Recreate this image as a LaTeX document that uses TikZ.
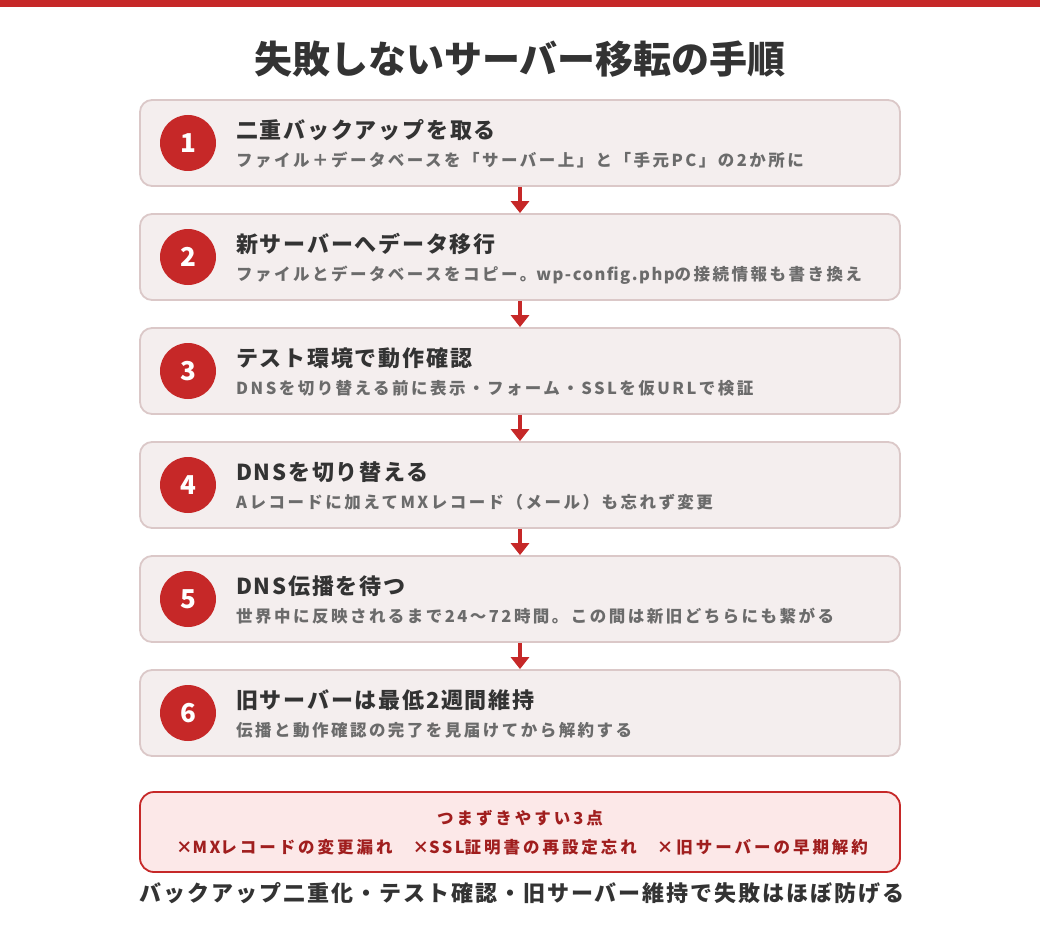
\documentclass[tikz,border=0pt]{standalone}
\usepackage{fontspec}
\setmainfont{Noto Sans CJK JP}
\newfontfamily\fhd{Noto Sans CJK JP}[LetterSpace=8]
\newfontfamily\fbot{Noto Sans CJK JP}[LetterSpace=9]
\newfontfamily\fsub{Noto Sans CJK JP}[LetterSpace=15]
\newfontfamily\fsubA{Noto Sans CJK JP}[LetterSpace=15]
\newfontfamily\fsubB{Noto Sans CJK JP}[LetterSpace=9]
\newfontfamily\fwarn{Noto Sans CJK JP}[LetterSpace=18]
\newcommand\latA[1]{{\fsubA\bfseries #1}}
\newcommand\latB[1]{{\fsubB\bfseries #1}}
\usetikzlibrary{arrows.meta}
\definecolor{redmain}{HTML}{C62828}
\definecolor{boxfill}{HTML}{F4EEEE}
\definecolor{boxline}{HTML}{DBC8C8}
\definecolor{warnfill}{HTML}{FCE8E8}
\definecolor{warntext}{HTML}{A01E1E}
\definecolor{headc}{HTML}{333333}
\definecolor{subc}{HTML}{6B6B6B}
\begin{document}
\begin{tikzpicture}[x=1pt,y=-1pt,
  stepbox/.style={draw=boxline, fill=boxfill, line width=1.8pt, rounded corners=12pt,
    minimum width=760pt, minimum height=86pt, inner sep=0pt},
  numc/.style={circle, fill=redmain, minimum size=56pt, inner sep=0pt, text=white,
    font=\bfseries\fontsize{26}{30}\selectfont},
  hd/.style={anchor=base west, inner sep=0pt, text=headc, font=\fhd\bfseries\fontsize{22}{26}\selectfont},
  sb/.style={anchor=base west, inner sep=0pt, text=subc, font=\fsub\bfseries\fontsize{16.5}{20}\selectfont},
  arr/.style={draw=redmain, line width=4pt, -{Triangle[width=18pt,length=12pt]}},
  warnbox/.style={draw=redmain, fill=warnfill, line width=1.8pt, rounded corners=14pt,
    minimum width=760pt, minimum height=80pt, inner sep=0pt},
  wt/.style={anchor=base, inner sep=0pt, text=warntext, font=\fwarn\bfseries\fontsize{16.5}{20}\selectfont},
]
\useasboundingbox (0,0) rectangle (1040,928);
\fill[white] (0,0) rectangle (1040,928);
\fill[redmain] (0,0) rectangle (1040,7);
\node[anchor=base, inner sep=0pt, text=headc, font=\bfseries\fontsize{38}{44}\selectfont] (title) at (520,74) {失敗しないサーバー移転の手順};
\foreach \i/\h/\s in {
  1/{二重バックアップを取る}/{ファイル＋データベースを「サーバー上」と「手元\latA{PC}」の2か所に},
  2/{新サーバーへデータ移行}/{ファイルとデータベースをコピー。\latB{wp-config.php}の接続情報も書き換え},
  3/{テスト環境で動作確認}/{DNSを切り替える前に表示・フォーム・SSLを仮URLで検証},
  4/{DNSを切り替える}/{Aレコードに加えてMXレコード（メール）も忘れず変更},
  5/{DNS伝播を待つ}/{世界中に反映されるまで\latA{24〜72}時間。この間は新旧どちらにも繋がる},
  6/{旧サーバーは最低2週間維持}/{伝播と動作確認の完了を見届けてから解約する}} {
  \pgfmathsetmacro\t{100+(\i-1)*114}
  \node[stepbox] (b\i) at (520,\t+43) {};
  \node[numc] (c\i) at (188,\t+43) {\i};
  \node[hd] (h\i) at (236,\t+38.4) {\h};
  \node[sb] (s\i) at (236,\t+66.8) {\s};
}
\foreach \i [evaluate=\i as \j using int(\i+1)] in {1,...,5}
  \draw[arr] (b\i.south) -- (b\j.north);
\node[warnbox] (w) at (520,832) {};
\node[wt] (w1) at (520,824.3) {つまずきやすい3点};
\node[wt] (w2) at (522,853.8) {×\latA{MX}レコードの変更漏れ\hspace{20pt}×\latA{SSL}証明書の再設定忘れ\hspace{20pt}×旧サーバーの早期解約};
\node[anchor=base, inner sep=0pt, text=headc, font=\fbot\bfseries\fontsize{22}{26}\selectfont] (bottom) at (522,901.4) {バックアップ二重化・テスト確認・旧サーバー維持で失敗はほぼ防げる};
\end{tikzpicture}
\end{document}
